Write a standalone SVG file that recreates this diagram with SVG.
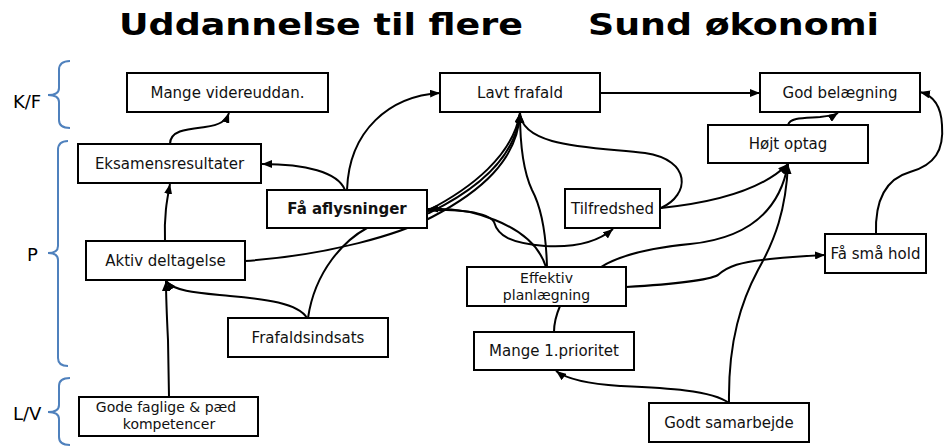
<svg xmlns="http://www.w3.org/2000/svg" width="952" height="446" viewBox="0 0 952 446">
<defs>
<style>
.box{fill:#fff;stroke:#000;stroke-width:2}
.t{font-family:"DejaVu Sans",Verdana,sans-serif;font-size:15px;fill:#111;text-anchor:middle}
.t2{font-size:14px}
.tb{font-weight:bold}
.title{font-family:"DejaVu Sans",Verdana,sans-serif;font-size:31px;font-weight:bold;fill:#000}
.lab{font-family:"DejaVu Sans",Verdana,sans-serif;font-size:18px;fill:#000}
.br{fill:none;stroke:#4f81bd;stroke-width:2}
.c{fill:none;stroke:#000;stroke-width:2}
.a{marker-end:url(#ah)}
</style>
<marker id="ah" viewBox="0 0 10 8" refX="10" refY="4" markerWidth="10" markerHeight="8" markerUnits="userSpaceOnUse" orient="auto">
<path d="M0,0 L10,4 L0,8 z" fill="#000"/>
</marker>
</defs>
<rect width="952" height="446" fill="#fff"/>
<g id="titles">
<text class="title" x="119" y="35" textLength="404" lengthAdjust="spacingAndGlyphs">Uddannelse til flere</text>
<text class="title" x="588" y="35" textLength="291" lengthAdjust="spacingAndGlyphs">Sund økonomi</text>
</g>
<g id="levels">
<path class="br" d="M70,61 Q59,61 59,70 L59,88 Q59,95 48,95 Q59,95 59,102 L59,120 Q59,128 70,128"/>
<text class="lab" x="13" y="108">K/F</text>
<path class="br" d="M68,141 Q58,141 58,150 L58,246 Q58,253 48,253 Q58,253 58,260 L58,358 Q58,366 68,366"/>
<text class="lab" x="27" y="261">P</text>
<path class="br" d="M70,378 Q59,378 59,386 L59,405 Q59,412 48,412 Q59,412 59,419 L59,437 Q59,445 70,445"/>
<text class="lab" x="13" y="420">L/V</text>
</g>
<g id="connectors">
<path class="c a" d="M170,144 C170,130 188,129 205,127 C220,125 226,121 229,113"/>
<path class="c a" d="M347,190 C349,130 390,96 440,93"/>
<path class="c a" d="M345,190 C338,172 305,164 262,164"/>
<path class="c a" d="M165,241 C164,215 167,200 170,184"/>
<path class="c a" d="M169,397 L168,340 C167,320 166,300 166,281"/>
<path class="c a" d="M307,318 C298,303 265,299 230,296 C200,293 175,292 166,281"/>
<path class="c a" d="M245,261 C330,255 400,234 432,217 C480,192 518,160 520,113"/>
<path class="c a" d="M308,318 C315,270 345,240 367,228 C390,220 410,218 429,213 C476,190 516,158 520,113"/>
<path class="c a" d="M427,211 C472,188 513,155 520,113"/>
<path class="c a" d="M547,267 C546,230 540,205 532,190 C525,175 520,150 520,113"/>
<path class="c a" d="M661,208 C690,195 692,160 645,153 C595,147 522,148 520,113"/>
<path class="c a" d="M546,267 C540,248 525,232 495,220 C475,212 450,208 428,209"/>
<path class="c a" d="M428,211 C455,208 488,212 494,222 C498,236 510,243 545,246 C580,248 600,240 613,229"/>
<path class="c a" d="M661,208 C710,203 760,192 788,164"/>
<path class="c a" d="M601,267 C620,255 650,248 690,244 C750,238 780,210 788,164"/>
<path class="c a" d="M729,403 C728,340 742,300 758,270 C775,240 786,210 788,164"/>
<path class="c a" d="M729,403 C712,390 665,388 620,386 C590,384 568,380 556,371"/>
<path class="c" d="M554,332 C554,322 557,313 560,306"/>
<path class="c a" d="M626,287 C660,285 705,282 718,275 C728,266 740,262 770,259 C790,257 805,256 825,255"/>
<path class="c a" d="M876,234 C875,205 882,180 910,172 C935,165 944,150 942,125 C941,105 932,95 920,92"/>
<path class="c a" d="M788,125 C790,117 805,118 820,117 C830,116 835,115 838,113"/>
<path class="c a" d="M600,93 L760,93"/>
</g>
<g id="n-videreuddan"><rect class="box" x="127" y="73" width="201" height="39"/><text class="t" x="227.5" y="98">Mange videreuddan.</text></g>
<g id="n-lavtfrafald"><rect class="box" x="440" y="73" width="160" height="39"/><text class="t" x="520" y="98">Lavt frafald</text></g>
<g id="n-godbelaegning"><rect class="box" x="760" y="73" width="160" height="39"/><text class="t" x="840" y="98">God belægning</text></g>
<g id="n-hoejtoptag"><rect class="box" x="708" y="125" width="160" height="38"/><text class="t" x="788" y="149">Højt optag</text></g>
<g id="n-eksamen"><rect class="box" x="78" y="144" width="183" height="39"/><text class="t" x="169.5" y="169">Eksamensresultater</text></g>
<g id="n-faaaflysninger"><rect class="box" x="267" y="190" width="160" height="38"/><text class="t tb" x="347" y="214">Få aflysninger</text></g>
<g id="n-tilfredshed"><rect class="box" x="565" y="189" width="95" height="39"/><text class="t" x="612.5" y="214">Tilfredshed</text></g>
<g id="n-aktiv"><rect class="box" x="86" y="241" width="159" height="39"/><text class="t" x="165.5" y="266">Aktiv deltagelse</text></g>
<g id="n-faasmaahold"><rect class="box" x="825" y="234" width="101" height="39"/><text class="t" x="875.5" y="259">Få små hold</text></g>
<g id="n-effektiv"><rect class="box" x="467" y="267" width="159" height="39"/><text class="t t2" x="546.5" y="283">Effektiv</text><text class="t t2" x="546.5" y="300">planlægning</text></g>
<g id="n-frafaldsindsats"><rect class="box" x="228" y="318" width="160" height="39"/><text class="t" x="308" y="343">Frafaldsindsats</text></g>
<g id="n-prioritet"><rect class="box" x="474" y="332" width="160" height="38"/><text class="t" x="554" y="356">Mange 1.prioritet</text></g>
<g id="n-gode"><rect class="box" x="79" y="397" width="179" height="39"/><text class="t t2" x="166" y="412">Gode faglige &amp; pæd</text><text class="t t2" x="169" y="429">kompetencer</text></g>
<g id="n-samarbejde"><rect class="box" x="649" y="403" width="160" height="39"/><text class="t" x="729" y="428">Godt samarbejde</text></g>
</svg>
